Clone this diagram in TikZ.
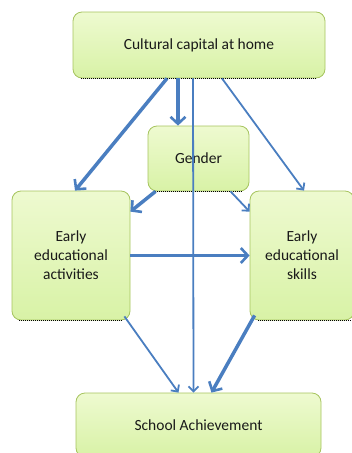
\documentclass[tikz,border=0pt]{standalone}
\usepackage{fontspec}
\setmainfont{Carlito}
\usetikzlibrary{arrows.meta}
\definecolor{boxfillA}{HTML}{EEFAD0}
\definecolor{boxfillB}{HTML}{D8F2A6}
\definecolor{boxline}{HTML}{A6C45E}
\definecolor{arrowblue}{HTML}{4A7EC0}
\tikzset{
  box/.style={draw=boxline, line width=0.8pt, rounded corners=9pt, top color=boxfillA, bottom color=boxfillB, align=center, font=\fontsize{15.5}{19}\selectfont, text=black!90, inner sep=0pt},
  shadowline/.style={black, line width=1pt, dash pattern=on 1pt off 1pt},
  thickarr/.style={arrowblue, line width=3.5pt, -{Straight Barb[length=7pt,width=15pt,line width=2.6pt]}},
  thinarr/.style={arrowblue, line width=1.8pt, -{Straight Barb[length=5pt,width=10pt,line width=1.8pt]}},
}
\begin{document}
\begin{tikzpicture}[x=1pt,y=-1pt]
\useasboundingbox (0,0) rectangle (352,453);
% boxes
\node[box, minimum width=252pt, minimum height=66pt] (top) at (199,45) {Cultural capital at home};
\node[box, minimum width=101pt, minimum height=65pt] (gen) at (198.5,158.5) {Gender};
\node[box, minimum width=118pt, minimum height=129pt] (left) at (71,255.5) {Early\\educational\\activities};
\node[box, minimum width=104pt, minimum height=129pt] (right) at (302,255.5) {Early\\educational\\skills};
\node[box, minimum width=245pt, minimum height=64pt] (sch) at (198.5,425) {School Achievement};
% shadows
\draw[shadowline] ([xshift=-118pt]top.south) -- ([xshift=118pt]top.south);
\draw[shadowline] ([xshift=-44pt]gen.south) -- ([xshift=44pt]gen.south);
\draw[shadowline] ([xshift=-52pt]left.south) -- ([xshift=52pt]left.south);
\draw[shadowline] ([xshift=-44pt]right.south) -- ([xshift=50pt]right.south);
% connectors
\coordinate (t1) at ([xshift=-32pt]top.south);
\coordinate (t2) at ([xshift=-21pt]top.south);
\coordinate (t3) at ([xshift=-6pt]top.south);
\coordinate (t4) at ([xshift=23pt]top.south);
\coordinate (l1) at ([xshift=4pt]left.north);
\coordinate (r1) at ([xshift=2pt]right.north);
\coordinate (g1) at ([xshift=-43pt]gen.south);
\coordinate (g2) at ([xshift=32pt]gen.south);
\coordinate (s1) at ([xshift=-20pt]sch.north);
\coordinate (s2) at ([xshift=-5pt]sch.north);
\coordinate (s3) at ([xshift=13pt]sch.north);
\coordinate (la) at ([xshift=-6pt,yshift=4pt]left.south east);
\coordinate (ra) at ([xshift=5pt,yshift=5pt]right.south west);
\draw[thickarr] (t1) -- (l1);
\draw[thickarr] (t2) -- (t2 |- gen.north);
\draw[thinarr] (t3) -- (s2);
\draw[thinarr] (t4) -- (r1);
\draw[thickarr] (g1) -- ([yshift=-21pt]left.north east);
\draw[thinarr] (g2) -- ([yshift=-21pt]right.north west);
\draw[thickarr] (left.east) -- (right.west);
\draw[thinarr] (la) -- (s1);
\draw[thickarr] (ra) -- (s3);
\end{tikzpicture}
\end{document}
